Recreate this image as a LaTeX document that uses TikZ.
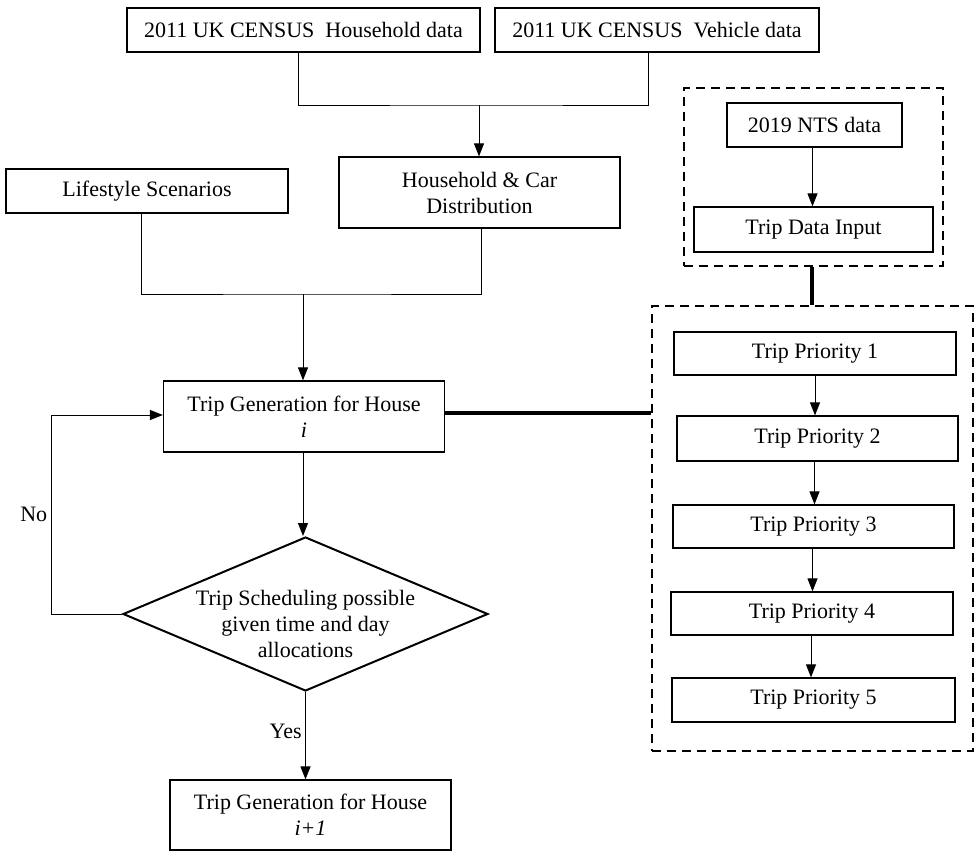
\documentclass[tikz,border=0pt]{standalone}
\usepackage{fontspec}
\setmainfont{Liberation Serif}
\usetikzlibrary{shapes.geometric,arrows.meta}
\begin{document}
\begin{tikzpicture}[x=1pt,y=-1pt,line width=1pt,
                       font=\fontsize{22}{26}\selectfont,
                       >={Triangle[length=13pt,width=10pt]},
                       box node/.style={rectangle,draw,line width=1.2pt,align=center,inner sep=2pt},
                       choice node/.style={diamond,draw,line width=2pt,aspect=2.37,inner sep=-10pt,align=center,
                                           minimum width=365pt,minimum height=154pt},
                       group node/.style={rectangle,draw,line width=2pt,dash pattern=on 9pt off 6pt}
                      ]
  \useasboundingbox (0,0) rectangle (974,851);

  % dashed groups first
  \node[group node,minimum width=259pt,minimum height=178pt] (grp1) at (813.5,177) {};
  \node[group node,minimum width=321pt,minimum height=445pt] (grp2) at (812.5,528.5) {};

  \node[box node,minimum width=353pt,minimum height=44pt] (hh) at (303.5,30) {2011 UK CENSUS\ \ Household data};
  \node[box node,minimum width=324pt,minimum height=44pt] (veh) at (657,30) {2011 UK CENSUS\ \ Vehicle data};
  \node[box node,minimum width=282pt,minimum height=44pt] (life) at (147,191) {Lifestyle Scenarios};
  \node[box node,minimum width=281pt,minimum height=71pt] (dist) at (479.5,192.5) {Household \& Car\\Distribution};
  \node[box node,minimum width=281pt,minimum height=71pt] (gen) at (304,416.5) {Trip Generation for House\\\textit{i}};
  \node[choice node] (dec) at (305.5,614)
    {\raisebox{-12pt}[\height][\depth]{\begin{tabular}{@{}c@{}}Trip Scheduling possible\\given time and day\\allocations\end{tabular}}};
  \node[box node,minimum width=281pt,minimum height=70pt] (next) at (310.5,815) {Trip Generation for House\\\textit{i+1}};

  \node[box node,minimum width=175pt,minimum height=44pt] (nts) at (814.5,125) {2019 NTS data};
  \node[box node,minimum width=239pt,minimum height=45pt] (tdi) at (813.5,229.5) {Trip Data Input};
  \node[box node,minimum width=282pt,minimum height=43pt] (tp1) at (815,353.5) {Trip Priority 1};
  \node[box node,minimum width=281pt,minimum height=45pt] (tp2) at (817.5,438.5) {Trip Priority 2};
  \node[box node,minimum width=281pt,minimum height=43pt] (tp3) at (813.5,526.5) {Trip Priority 3};
  \node[box node,minimum width=282pt,minimum height=43pt] (tp4) at (812,613.5) {Trip Priority 4};
  \node[box node,minimum width=283pt,minimum height=44pt] (tp5) at (813.5,700) {Trip Priority 5};

  \coordinate (j1) at (479,105);
  \coordinate (j2) at (303,294);

  \draw ([xshift=-5.5pt]hh.south) |- (j1) -| ([xshift=-9pt]veh.south);
  \draw[->] (j1) -- (j1 |- dist.north);
  \draw ([xshift=-6pt]life.south) |- (j2) -| ([xshift=1.5pt]dist.south);
  \draw[->] (j2) -- (j2 |- gen.north);
  \draw[->] ([xshift=-1pt]gen.south) -- ([xshift=-1pt]gen.south |- dec.north);
  \draw[->] (dec.south) -- node[left,pos=0.45] {Yes} (dec.south |- next.north);
  \draw[->] (dec.west) -- ++(-71,0) |- node[left,pos=0.25] {No} ([yshift=1.5pt]gen.west);

  \draw[line width=4pt] ([yshift=4pt]gen.east) -- ([yshift=4pt]gen.east -| grp2.west);
  \draw[line width=4pt] ([xshift=-2pt]grp1.south) -- ([xshift=-2pt]grp1.south |- grp2.north);

  \draw[->] ([xshift=-2pt]nts.south) -- ([xshift=-2pt]nts.south |- tdi.north);
  \draw[->] (tp1.south) -- (tp1.south |- tp2.north);
  \draw[->] ([xshift=-3pt]tp2.south) -- ([xshift=-3pt]tp2.south |- tp3.north);
  \draw[->] ([xshift=-1pt]tp3.south) -- ([xshift=-1pt]tp3.south |- tp4.north);
  \draw[->] ([xshift=-1pt]tp4.south) -- ([xshift=-1pt]tp4.south |- tp5.north);
\end{tikzpicture}
\end{document}
